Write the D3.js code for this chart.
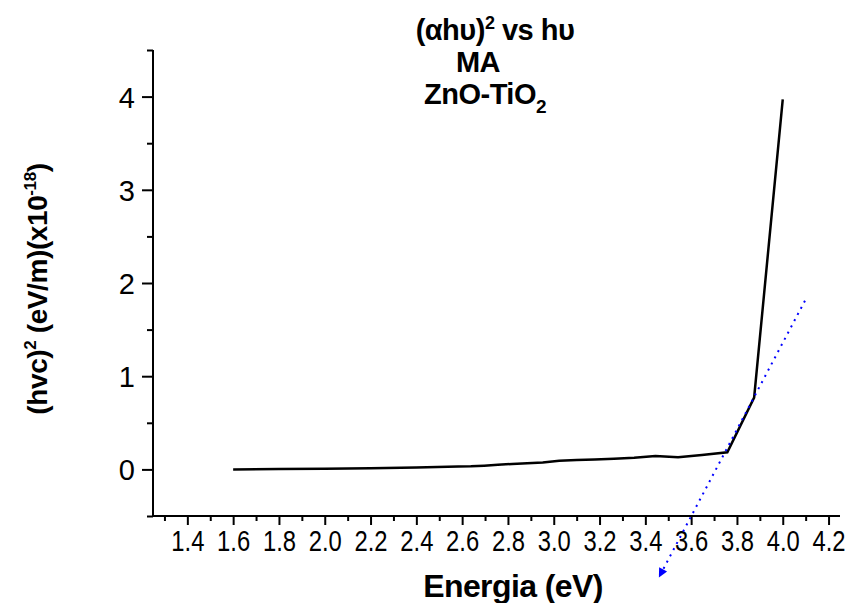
<!DOCTYPE html>
<html>
<head>
<meta charset="utf-8">
<script src="https://cdn.jsdelivr.net/npm/d3@7"></script>
<style>
  html, body { margin: 0; padding: 0; background: #fff; }
  svg { display: block; }
  text { font-family: "Liberation Sans", Arial, sans-serif; }
</style>
</head>
<body>
<div id="chart"></div>
<script>
// Energia (eV) and (hvc)^2 values
const energy = [1.6, 1.8, 2.0, 2.2, 2.4, 2.583, 2.638, 2.696, 2.756, 2.818, 2.884, 2.952,
  3.024, 3.1, 3.179, 3.263, 3.351, 3.444, 3.543, 3.647, 3.758, 3.875, 4.0];
const signal = [0.0, 0.003, 0.006, 0.012, 0.02, 0.03, 0.033, 0.04, 0.05, 0.058, 0.066, 0.074,
  0.092, 0.1, 0.107, 0.115, 0.125, 0.143, 0.13, 0.155, 0.183, 0.77, 3.97];

// tangent (dotted blue) end points
const tangentX = [4.097, 3.461];
const tangentY = [1.81, -1.15];

const xMajor = [1.4, 1.6, 1.8, 2.0, 2.2, 2.4, 2.6, 2.8, 3.0, 3.2, 3.4, 3.6, 3.8, 4.0, 4.2];
const xMinor = [1.3, 1.5, 1.7, 1.9, 2.1, 2.3, 2.5, 2.7, 2.9, 3.1, 3.3, 3.5, 3.7, 3.9, 4.1];
const yMajor = [0, 1, 2, 3, 4];
const yMinor = [-0.5, 0.5, 1.5, 2.5, 3.5, 4.5];

const width = 851, height = 603;

const svg = d3.select("#chart").append("svg")
  .attr("width", width)
  .attr("height", height);

const x = d3.scaleLinear().domain([1.25, 4.25]).range([153, 840]);
const y = d3.scaleLinear().domain([-0.5, 4.5]).range([516, 50]);

// axes: minor ticks first, then major ticks with labels
const xMinorAxis = d3.axisBottom(x).tickValues(xMinor).tickSize(5).tickFormat("");
const xMajorAxis = d3.axisBottom(x).tickValues(xMajor).tickSize(9).tickFormat(d3.format(".1f"));
const yMinorAxis = d3.axisLeft(y).tickValues(yMinor).tickSize(6).tickFormat("");
const yMajorAxis = d3.axisLeft(y).tickValues(yMajor).tickSize(11).tickFormat(d3.format("d"));

function styleAxis(g) {
  g.select(".domain").remove();
  g.selectAll(".tick line").attr("stroke", "#000").attr("stroke-width", 2);
  g.selectAll(".tick text").attr("fill", "#000").style("font-size", "29px");
}

svg.append("g").attr("transform", `translate(0,${y(-0.5)})`).call(xMinorAxis).call(styleAxis);
svg.append("g").attr("transform", `translate(0,${y(-0.5)})`).call(xMajorAxis).call(styleAxis)
  .call(g => g.selectAll(".tick text")
    .attr("dy", null).attr("y", 35)
    .each(function() {
      // the x labels are drawn narrower in the original
      const w = this.getComputedTextLength();
      d3.select(this).attr("textLength", w * 0.82).attr("lengthAdjust", "spacingAndGlyphs");
    }));

svg.append("g").attr("transform", `translate(${x(1.25)},0)`).call(yMinorAxis).call(styleAxis);
svg.append("g").attr("transform", `translate(${x(1.25)},0)`).call(yMajorAxis).call(styleAxis)
  .call(g => g.selectAll(".tick text").attr("x", -18).attr("dy", "0.36em"));

// axis lines
svg.append("line")
  .attr("x1", x(1.25)).attr("x2", x(4.25))
  .attr("y1", y(-0.5)).attr("y2", y(-0.5))
  .attr("stroke", "#000").attr("stroke-width", 2);
svg.append("line")
  .attr("x1", x(1.25)).attr("x2", x(1.25))
  .attr("y1", y(-0.5) + 1).attr("y2", y(4.5))
  .attr("stroke", "#000").attr("stroke-width", 2);

// data curve
const line = d3.line()
  .x((d, i) => x(energy[i]))
  .y((d, i) => y(signal[i]));

svg.append("path")
  .datum(signal)
  .attr("d", line)
  .attr("fill", "none")
  .attr("stroke", "#000")
  .attr("stroke-width", 2.5)
  .attr("stroke-linejoin", "miter");

// tangent with arrow head
svg.append("defs").append("marker")
  .attr("id", "arrow")
  .attr("viewBox", "0 0 10 10")
  .attr("refX", 9).attr("refY", 5)
  .attr("markerWidth", 12).attr("markerHeight", 9)
  .attr("markerUnits", "userSpaceOnUse")
  .attr("orient", "auto")
  .append("path")
  .attr("d", "M0,0 L10,5 L0,10 Z")
  .attr("fill", "#0000ff");

svg.append("line")
  .attr("x1", x(tangentX[0])).attr("y1", y(tangentY[0]))
  .attr("x2", x(tangentX[1])).attr("y2", y(tangentY[1]))
  .attr("stroke", "#0000ff")
  .attr("stroke-width", 2)
  .attr("stroke-dasharray", "2,5")
  .attr("marker-end", "url(#arrow)");

// title
const title = svg.append("g")
  .style("font-weight", "bold")
  .style("font-size", "29px")
  .attr("fill", "#000")
  .attr("text-anchor", "middle");

const t1 = title.append("text").attr("x", 495).attr("y", 40).attr("letter-spacing", "-0.5");
t1.append("tspan").text("(\u03b1h\u03c5)");
t1.append("tspan").attr("dy", -11).style("font-size", "18px").text("2");
t1.append("tspan").attr("dy", 11).text(" vs h\u03c5");

title.append("text").attr("x", 478).attr("y", 72).attr("letter-spacing", "-0.5").text("MA");

const t3 = title.append("text").attr("x", 485).attr("y", 104).attr("letter-spacing", "-0.5");
t3.append("tspan").text("ZnO-TiO");
t3.append("tspan").attr("dy", 9).style("font-size", "19px").text("2");

// axis titles
svg.append("text")
  .attr("x", 513).attr("y", 597)
  .attr("text-anchor", "middle")
  .style("font-weight", "bold")
  .style("font-size", "32px")
  .attr("letter-spacing", "-0.6")
  .text("Energia (eV)");

const yl = svg.append("text")
  .attr("transform", "translate(47,289) rotate(-90)")
  .attr("text-anchor", "middle")
  .style("font-weight", "bold")
  .style("font-size", "28px")
  .attr("letter-spacing", "-0.4");
yl.append("tspan").text("(hvc)");
yl.append("tspan").attr("dy", -11).style("font-size", "17px").text("2");
yl.append("tspan").attr("dy", 11).text(" (eV/m)(x10");
yl.append("tspan").attr("dy", -11).style("font-size", "17px").text("-18");
yl.append("tspan").attr("dy", 11).text(")");
</script>
</body>
</html>
